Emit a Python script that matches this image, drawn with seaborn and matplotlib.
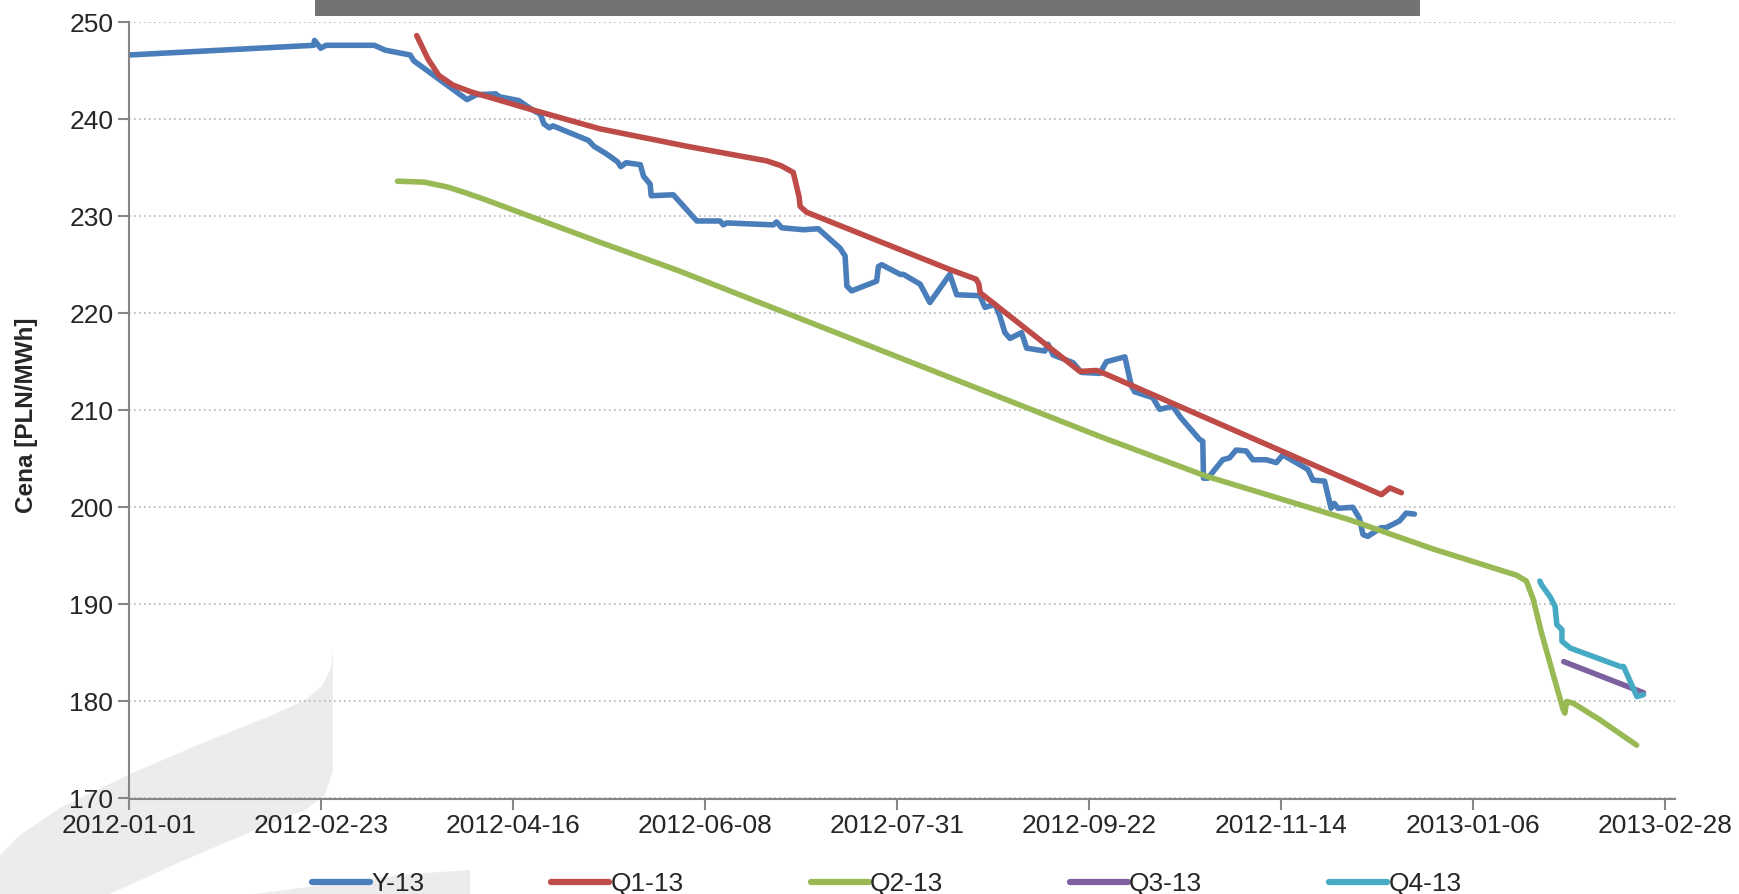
import pandas as pd
import seaborn as sns
import matplotlib.pyplot as plt
from matplotlib.patches import Polygon, Rectangle

# contract prices, x = days since 2012-01-01
y13_day = [0, 51.1, 51.3, 53.0, 54.5, 67.8, 70.8, 77.7, 78.7, 87.5, 93.4, 95.9, 101.3, 102.3,
           107.7, 111.2, 113.6, 114.6, 116.1, 117.1, 126.9, 128.4, 131.9, 134.9, 135.8, 137.3,
           141.2, 142.1, 143.9, 144.2, 150.3, 156.8, 163.2, 164.1, 165.0, 177.9, 178.8, 180.2,
           186.2, 190.3, 196.3, 197.7, 198.2, 199.5, 206.4, 206.9, 207.8, 212.9, 213.8, 218.4,
           221.1, 226.6, 228.5, 234.9, 236.3, 239.1, 240.4, 241.8, 243.2, 246.4, 247.8, 252.8,
           253.7, 255.1, 260.6, 262.9, 268.0, 269.8, 274.9, 276.7, 277.6, 282.6, 284.5, 288.1,
           290.4, 295.5, 296.4, 296.6, 297.8, 301.9, 303.8, 305.6, 308.4, 310.2, 313.9, 316.7,
           318.5, 323.1, 325.4, 326.8, 330.0, 331.8, 332.7, 333.7, 337.8, 339.6, 340.6, 341.9,
           345.6, 347.0, 350.7, 352.5, 354.8]
y13_price = [246.6, 247.6, 248.1, 247.3, 247.6, 247.6, 247.1, 246.6, 246.0, 243.6, 242.0, 242.5,
             242.6, 242.3, 241.9, 241.0, 240.5, 239.5, 239.1, 239.3, 237.8, 237.2, 236.4, 235.6,
             235.1, 235.5, 235.3, 234.1, 233.3, 232.1, 232.2, 229.5, 229.5, 229.1, 229.3, 229.1,
             229.4, 228.8, 228.6, 228.7, 226.7, 225.9, 222.8, 222.3, 223.3, 224.8, 225.0, 224.0,
             224.0, 223.0, 221.1, 224.0, 221.9, 221.8, 220.6, 220.9, 219.7, 218.0, 217.4, 218.0,
             216.4, 216.1, 216.8, 215.7, 214.9, 213.9, 213.8, 215.0, 215.5, 212.5, 211.9, 211.3,
             210.1, 210.4, 209.2, 207.0, 206.8, 203.0, 203.0, 204.9, 205.1, 205.9, 205.8, 204.9,
             204.9, 204.6, 205.4, 204.4, 203.9, 202.8, 202.7, 199.9, 200.4, 199.9, 200.0, 198.9,
             197.2, 197.0, 197.9, 197.9, 198.6, 199.4, 199.3]

q113_day = [79.5, 82.6, 85.6, 89.5, 94.5, 110, 130, 154, 176, 180, 183.4, 185.0, 185.3, 187.1,
            226.6, 233.9, 234.6, 235.0, 262.5, 267.1, 269.8, 345.7, 348.0, 351.2]
q113_price = [248.6, 246.2, 244.5, 243.5, 242.8, 241.1, 239.0, 237.2, 235.7, 235.2, 234.5, 232.0,
              231.0, 230.4, 224.5, 223.5, 223.0, 222.1, 214.0, 214.1, 213.7, 201.3, 202.0, 201.5]

q213_day = [74.2, 81.6, 88.0, 93.0, 98.4, 130.1, 151.6, 268, 297.4, 337, 360, 383, 385.7, 387.6,
            389.9, 395.8, 396.3, 396.8, 398.7, 406, 416.1]
q213_price = [233.6, 233.5, 233.0, 232.4, 231.7, 227.3, 224.4, 207.3, 203.2, 198.7, 195.7, 193.0,
              192.4, 190.5, 187.0, 179.2, 178.8, 180.0, 179.8, 178.1, 175.5]

q313_day = [396, 418]
q313_price = [184.1, 180.9]

q413_day = [389.4, 389.9, 392.2, 393.6, 394.1, 395.5, 395.5, 397.8, 411.6, 412.5, 416.2, 418]
q413_price = [192.4, 192.0, 190.8, 189.8, 187.9, 187.4, 186.2, 185.5, 183.6, 183.6, 180.5, 180.7]

contracts = ['Y-13', 'Q1-13', 'Q2-13', 'Q3-13', 'Q4-13']
colors = ['#4A7EBB', '#BE4B48', '#98B954', '#7D60A0', '#46AAC5']
tick_labels = ['2012-01-01', '2012-02-23', '2012-04-16', '2012-06-08', '2012-07-31',
               '2012-09-22', '2012-11-14', '2013-01-06', '2013-02-28']

start = pd.Timestamp('2012-01-01')
series = [(y13_day, y13_price), (q113_day, q113_price), (q213_day, q213_price),
          (q313_day, q313_price), (q413_day, q413_price)]
frames = []
for name, (d, p) in zip(contracts, series):
    frames.append(pd.DataFrame({'date': start + pd.to_timedelta(d, unit='D'),
                                'price': p, 'contract': name}))
df = pd.concat(frames, ignore_index=True)

sns.set_style('white')
plt.rcParams['font.family'] = ['Liberation Sans', 'DejaVu Sans']

W, H = 1739, 894
fig = plt.figure(figsize=(W / 100, H / 100), dpi=100)

# watermark swoosh in the lower-left corner (behind the axes)
swoosh = [(333, 648), (331, 668), (322, 686), (305, 700), (270, 716), (200, 744), (130, 774),
          (60, 808), (20, 835), (0, 855), (0, 894), (110, 894), (180, 862), (260, 828),
          (305, 810), (325, 795), (333, 770)]
fig.patches.append(Polygon([(x / W, 1 - y / H) for x, y in swoosh], closed=True,
                           facecolor='#ececec', edgecolor='none', transform=fig.transFigure,
                           zorder=0))
swoosh2 = [(255, 894), (330, 884), (410, 874), (470, 870), (470, 894)]
fig.patches.append(Polygon([(x / W, 1 - y / H) for x, y in swoosh2], closed=True,
                           facecolor='#ececec', edgecolor='none', transform=fig.transFigure,
                           zorder=0))
# grey title bar (cut off at the top of the image)
fig.patches.append(Rectangle((315 / W, 1 - 15.5 / H), (1420 - 315) / W, 15.5 / H,
                             facecolor='#737373', edgecolor='none', transform=fig.transFigure,
                             zorder=0))

ax = fig.add_axes([128.6 / W, 1 - 798.5 / H, (1675 - 128.6) / W, (798.5 - 22) / H])
ax.patch.set_alpha(0)
ax.set_zorder(2)

sns.lineplot(data=df, x='date', y='price', hue='contract', hue_order=contracts,
             palette=colors, estimator=None, sort=False, linewidth=4, ax=ax,
             solid_capstyle='round', solid_joinstyle='round')

ax.set_ylim(170, 250)
ax.set_yticks(range(170, 251, 10))
ticks = pd.to_datetime(tick_labels)
ax.set_xticks(ticks)
ax.set_xticklabels(tick_labels)
ax.set_xlim(start, start + pd.Timedelta(days=426.7))

ax.yaxis.grid(True, linestyle=(0, (1, 2)), color='#b4b4b4', linewidth=1.2)
ax.set_axisbelow(True)
for s in ['top', 'right']:
    ax.spines[s].set_visible(False)
for s in ['left', 'bottom']:
    ax.spines[s].set_color('#868686')
    ax.spines[s].set_linewidth(1.5)
ax.tick_params(direction='out', length=8, width=1.5, color='#868686', labelsize=19, pad=3,
               bottom=True, left=True)

ax.set_xlabel('')
ax.set_ylabel('Cena [PLN/MWh]', fontsize=17.5, fontweight='bold')
ax.yaxis.set_label_coords(-0.0586, 0.493)

handles, labels = ax.get_legend_handles_labels()
ax.get_legend().remove()
for h in handles:
    h.set_linewidth(4.5)
    h.set_solid_capstyle('round')
leg = fig.legend(handles, labels, loc='center', bbox_to_anchor=(0.51, 0.011), ncol=5,
                 frameon=False, fontsize=19, handlelength=2.2, handletextpad=0.05,
                 columnspacing=4.8)
leg.set_zorder(3)

fig.savefig('out.png', dpi=100)
